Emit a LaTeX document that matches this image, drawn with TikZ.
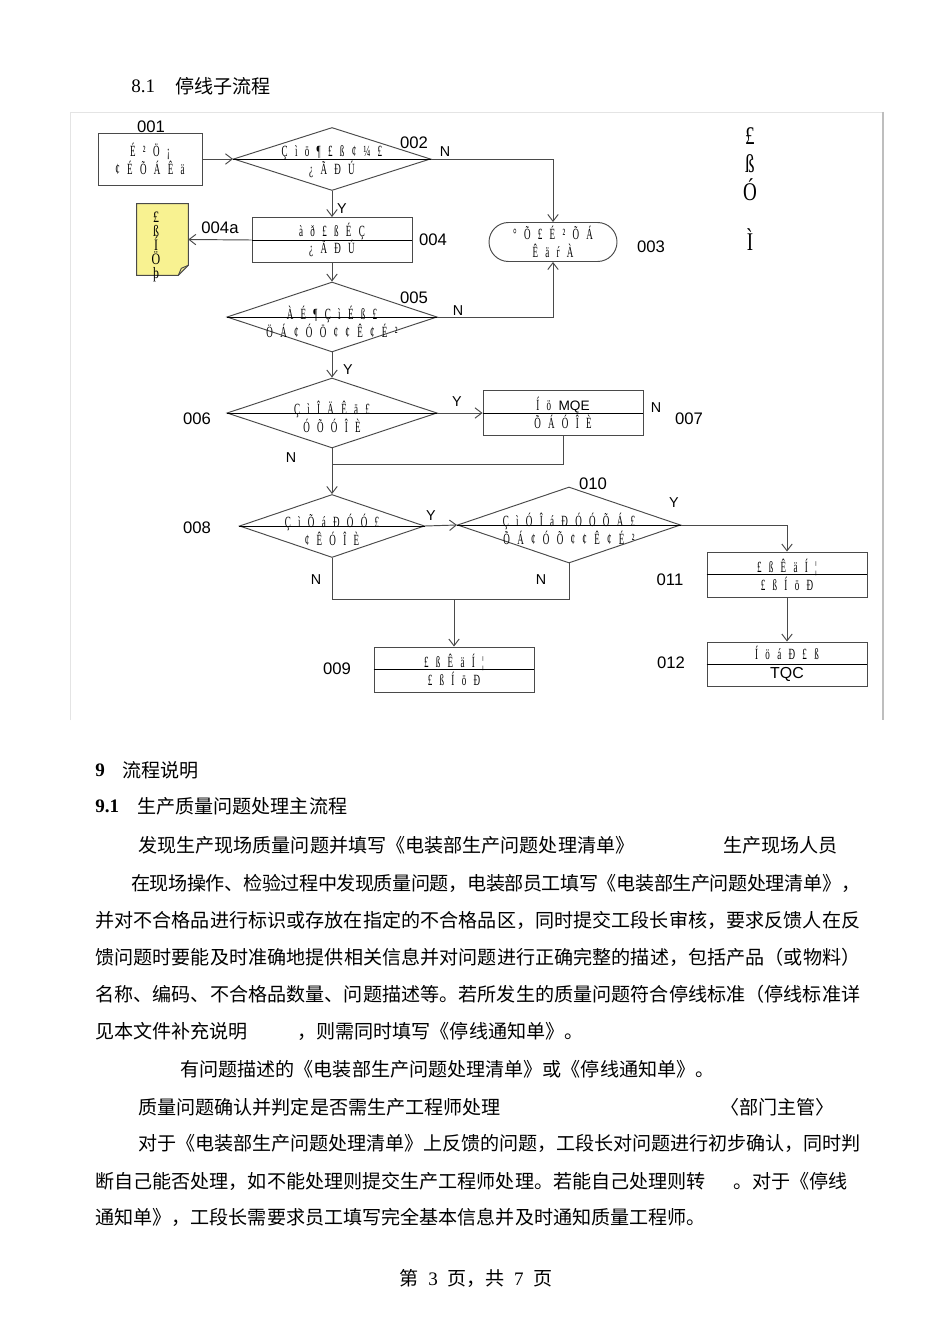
\documentclass[tikz,border=0pt]{standalone}
\usepackage{fontspec}
\setmainfont{Liberation Serif}
\newfontfamily\cjk{Noto Sans CJK SC}
\newfontfamily\arial{Liberation Sans}
\newfontfamily\garbfont[FakeStretch=0.58]{Liberation Serif}
\newfontfamily\garbwide[FakeStretch=0.75]{Liberation Serif}
\usetikzlibrary{positioning, arrows.meta, shapes.geometric, shapes.misc}
\definecolor{FlowGray}{HTML}{4A4A4A}
\definecolor{FrameLight}{HTML}{E4E4E4}
\definecolor{FrameDark}{HTML}{BEBEBE}
\definecolor{NoteYellow}{HTML}{F8F291}
\newlength\pxunit
\setlength\pxunit{0.221053mm}
\XeTeXlinebreaklocale "zh"
\XeTeXlinebreakskip=0pt plus 1pt minus 0.5pt
\newcommand\garb{\garbfont\fontsize{9.8}{11.2}\selectfont\spaceskip=4.6pt\relax}
\newcommand\jline[2]{\parbox{#1\pxunit}{\parindent=0pt\parfillskip=0pt\relax #2}}

\begin{document}
\begin{tikzpicture}[x=0.221053mm, y=-0.221053mm,
    procbox/.style={draw=FlowGray, line width=0.6pt, rectangle, minimum width=160\pxunit, minimum height=45\pxunit, inner sep=0pt, font=\garb, align=center},
    decbox/.style={draw=FlowGray, line width=0.6pt, diamond, inner sep=0pt},
    garbtext/.style={font=\garb, align=center, inner sep=0pt},
    splitline/.style={draw=black, line width=0.6pt},
    numlabel/.style={font=\arial\fontsize{10.5}{12}\selectfont, inner sep=0pt},
    ynlabel/.style={font=\arial\fontsize{9}{11}\selectfont, inner sep=0pt},
    arrowline/.style={draw=FlowGray, line width=0.6pt, -{Straight Barb[length=1.5mm, width=2.3mm]}},
    plainline/.style={draw=FlowGray, line width=0.6pt},
    bodytext/.style={font=\cjk\fontsize{12}{14}\selectfont, anchor=west, inner sep=0pt},
    latin/.style={font=\fontsize{12}{14}\selectfont, anchor=west, inner sep=0pt},
]
  \path[use as bounding box, fill=white] (0,0) rectangle (950,1344);

  % Section title
  \node[latin] (t81) at (131,86) {8.1};
  \node[bodytext] (t81t) at (175,86) {停线子流程};

  % Frame round the chart
  \draw[FrameLight, line width=0.6pt] (70,720) -- (70,112) -- (883,112);
  \draw[FrameDark, line width=0.8pt] (883,112) -- (883,720);

  % Process boxes
  \node[procbox, minimum width=104\pxunit, minimum height=52\pxunit] (n001) at (150,159) {É ² Ö ¡\\¢ É Õ Á Ê ä};
  \node[procbox] (n004) at (332,240) {à ð £ ß É Ç\\¿ Ã Ð Ú};
  \node[procbox] (n007) at (563,413) {Í ö {\arial\fontsize{8.6}{10}\selectfont MQE}\\Õ Á Ó Î È};
  \node[procbox] (n009) at (454,669.5) {£ ß Ê ä Í ¦\\£ ß Í ö Ð};
  \node[procbox] (n011) at (787,574.5) {£ ß Ê ä Í ¦\\£ ß Í ö Ð};
  \node[procbox, minimum height=44\pxunit] (n012) at (787,664) {Í ö á Ð £ ß\\[1pt]{\arial\fontsize{10}{10}\selectfont TQC}};
  \node[draw=FlowGray, line width=0.6pt, rounded rectangle, minimum width=128\pxunit, minimum height=39\pxunit, inner sep=0pt, font=\garb, align=center] (n003) at (553,242) {° Õ £ É ² Õ Á\\Ê ä ŕ À};

  % Decisions
  \node[decbox, minimum width=197\pxunit, minimum height=63\pxunit] (n002) at (332,159) {};
  \node[decbox, minimum width=210\pxunit, minimum height=70\pxunit] (n005) at (332,317) {};
  \node[decbox, minimum width=210\pxunit, minimum height=70\pxunit] (n006) at (332,413) {};
  \node[decbox, minimum width=185\pxunit, minimum height=63\pxunit] (n008) at (332,526) {};
  \node[decbox, minimum width=223\pxunit, minimum height=76\pxunit] (n010) at (569,525) {};
  \node[garbtext] (n002t) at (332,162) {Ç ì ö ¶ £ ß ¢ ¼ £\\¿ Ã Ð Ú};
  \node[garbtext] (n005t) at (332,322) {À É ¶ Ç ì É ß £\\Ö Á ¢ Ó Ö ¢ ¢ Ê ¢ É ²};
  \node[garbtext] (n006t) at (332,417) {Ç ì Î Ä Ê ä £\\Ó Õ Ó Î È};
  \node[garbtext] (n008t) at (332,530) {Ç ì Õ á Ð Ó Ó £\\¢ Ê Ó Î È};
  \node[garbtext] (n010t) at (569,529) {Ç ì Ó Î á Ð Ó Ó Õ Á £\\Õ Á ¢ Ó Õ ¢ ¢ Ê ¢ É ²};

  % Split lines through boxes and decisions
  \foreach \n in {n004, n007, n009, n011, n012, n002, n005, n006, n008, n010}
    \draw[splitline] (\n.west) -- (\n.east);

  % Document 004a
  \node[minimum width=51\pxunit, minimum height=71\pxunit, inner sep=0pt] (n004a) at (162.5,239.5) {};
  \draw[FlowGray, line width=0.6pt, fill=NoteYellow] (n004a.north west) -- (n004a.north east)
    -- ([yshift=10\pxunit]n004a.south east) -- ([xshift=-10\pxunit]n004a.south east)
    -- (n004a.south west) -- cycle;
  \draw[FlowGray, line width=0.6pt] ([yshift=10\pxunit]n004a.south east)
    -- ([xshift=-7\pxunit, yshift=7\pxunit]n004a.south east) -- ([xshift=-10\pxunit]n004a.south east);
  \node[font=\garbwide\fontsize{10}{3.1mm}\selectfont, align=center, inner sep=0pt] (n004at) at (156,247) {£\\ß\\Í\\Ö\\þ};

  % Side column
  \node[font=\garbwide\fontsize{16}{17.6}\selectfont, align=center, inner sep=0pt] (side1) at (750,164) {£\\ß\\Ó};
  \node[font=\garbwide\fontsize{16}{17.6}\selectfont, inner sep=0pt] (side2) at (750,240) {Ì};

  % Connectors
  \coordinate (j1) at (332,464);
  \coordinate (j2) at (454,599);
  \draw[arrowline] (n001.east) -- (n002.west);
  \draw[arrowline] (n002.east) -| (n003.north);
  \draw[arrowline] (n002.south) -- (n004.north);
  \draw[arrowline] (n004.west) -- (n004a.east);
  \draw[arrowline] (n004.south) -- (n005.north);
  \draw[arrowline] (n005.east) -| (n003.south);
  \draw[arrowline] (n005.south) -- (n006.north);
  \draw[arrowline] (n006.east) -- (n007.west);
  \draw[arrowline] (n006.south) -- (n008.north);
  \draw[plainline] (n007.south) |- (j1);
  \draw[arrowline] (n008.east) -- (n010.west);
  \draw[arrowline] (n010.east) -| (n011.north);
  \draw[arrowline] (n011.south) -- (n012.north);
  \draw[plainline] (n008.south) |- (j2);
  \draw[plainline] (n010.south) |- (j2);
  \draw[arrowline] (j2) -- (n009.north);

  % Step numbers
  \foreach \lbl/\x/\y in {001/151/127, 002/414/143, 003/651/247, 004/433/240, 004a/220/228, 005/414/298,
      006/197/419, 007/689/419, 008/197/528, 009/337/669, 010/593/484, 011/670/580, 012/671/663}
    \node[numlabel] (lab\lbl) at (\x,\y) {\lbl};

  % Y / N marks
  \foreach \i/\t/\x/\y in {1/N/445/152, 2/Y/342/209, 3/N/458/311, 4/Y/348/370, 5/Y/457/402, 6/N/656/408,
      7/N/291/458, 8/Y/431/516, 9/Y/674/503, 10/N/316/580, 11/N/541/580}
    \node[ynlabel] (yn\i) at (\x,\y) {\t};

  % Description text
  \node[latin, font=\bfseries\fontsize{12}{14}\selectfont] (h9) at (95,770) {9};
  \node[bodytext, right=17\pxunit of h9] (h9t) {流程说明};
  \node[latin, font=\bfseries\fontsize{12}{14}\selectfont] (h91) at (95,806) {9.1};
  \node[bodytext] (h91t) at (137,806) {生产质量问题处理主流程};
  \node[bodytext] (p1a) at (138,845) {发现生产现场质量问题并填写《电装部生产问题处理清单》};
  \node[bodytext] (p1b) at (723,845) {生产现场人员};
  \node[bodytext] (p2l1) at (131,883) {\jline{729}{在现场操作、检验过程中发现质量问题，电装部员工填写《电装部生产问题处理清单》，}};
  \node[bodytext] (p2l2) at (95,920) {\jline{765}{并对不合格品进行标识或存放在指定的不合格品区，同时提交工段长审核，要求反馈人在反}};
  \node[bodytext] (p2l3) at (95,957) {\jline{765}{馈问题时要能及时准确地提供相关信息并对问题进行正确完整的描述，包括产品（或物料）}};
  \node[bodytext] (p2l4) at (95,994) {\jline{765}{名称、编码、不合格品数量、问题描述等。若所发生的质量问题符合停线标准（停线标准详}};
  \node[bodytext] (p2l5a) at (95,1031) {见本文件补充说明};
  \node[bodytext] (p2l5b) at (297,1031) {，则需同时填写《停线通知单》。};
  \node[bodytext] (p3) at (180,1069) {有问题描述的《电装部生产问题处理清单》或《停线通知单》。};
  \node[bodytext] (p4a) at (138,1107) {质量问题确认并判定是否需生产工程师处理};
  \node[bodytext] (p4b) at (720,1107) {〈部门主管〉};
  \node[bodytext] (p5l1) at (138,1143) {\jline{722}{对于《电装部生产问题处理清单》上反馈的问题，工段长对问题进行初步确认，同时判}};
  \node[bodytext] (p5l2a) at (95,1181) {断自己能否处理，如不能处理则提交生产工程师处理。若能自己处理则转};
  \node[bodytext] (p5l2b) at (733,1181) {。对于《停线};
  \node[bodytext] (p5l3) at (95,1217) {通知单》，工段长需要求员工填写完全基本信息并及时通知质量工程师。};

  % Page number
  \node[inner sep=0pt, font=\fontsize{12}{14}\selectfont] (pageno) at (476,1278)
    {{\cjk 第}\hspace{6pt}3\hspace{6pt}{\cjk 页，共}\hspace{6pt}7\hspace{6pt}{\cjk 页}};
\end{tikzpicture}
\end{document}
